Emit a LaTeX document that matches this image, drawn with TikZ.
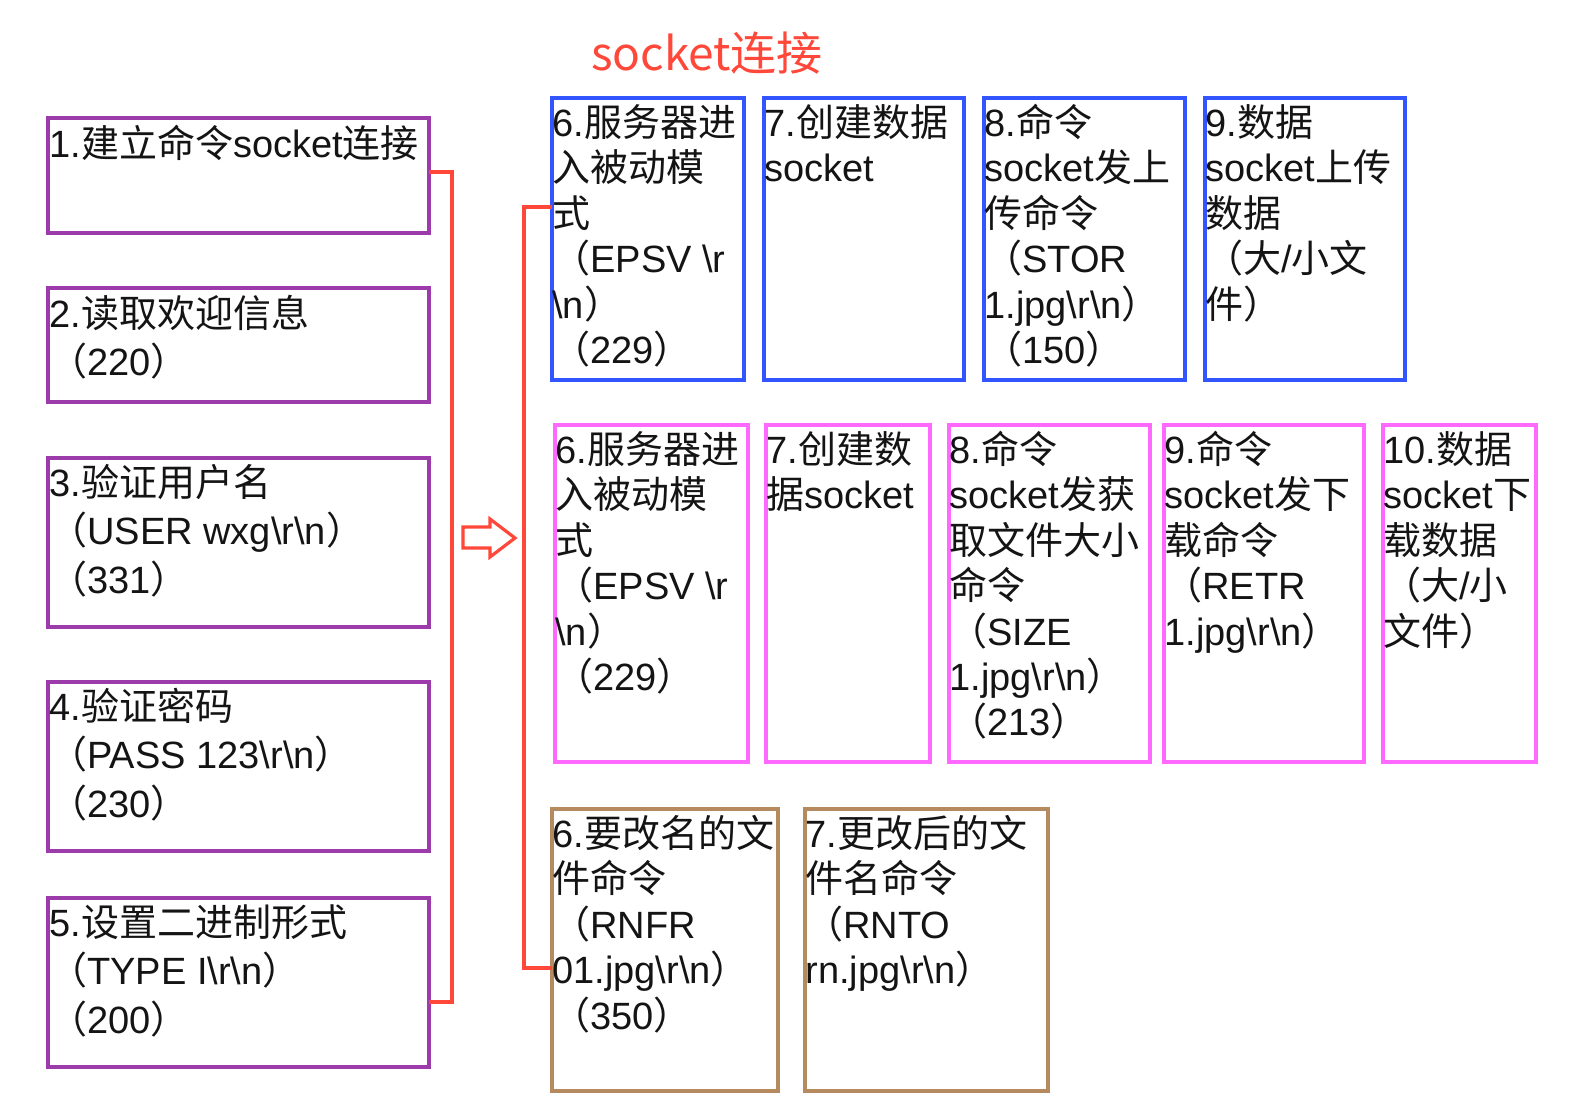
\documentclass[tikz,border=0pt]{standalone}
\usepackage{fontspec}
\newfontfamily\cjk{Noto Sans CJK SC}
\newfontfamily\lat{Liberation Sans}
\usetikzlibrary{calc}
\definecolor{cpurple}{RGB}{155,60,170}
\definecolor{cblue}{RGB}{50,85,255}
\definecolor{cpink}{RGB}{255,105,255}
\definecolor{cbrown}{RGB}{182,138,95}
\definecolor{cred}{RGB}{255,72,58}
\newcommand\bs{\textbackslash}
\newcommand\st{\rule{0pt}{17pt}}
\newcommand\A[1]{{\lat #1}}
\tikzset{
  boxbase/.style={draw, line width=1.75pt, anchor=north west, inner sep=0pt, outer sep=0pt, rectangle},
  boxP/.style={boxbase, draw=cpurple},
  boxB/.style={boxbase, draw=cblue},
  boxK/.style={boxbase, draw=cpink},
  boxR/.style={boxbase, draw=cbrown},
  txtL/.style={anchor=north west, inner sep=0pt, align=left, text=black!92, font=\cjk\fontsize{19}{24.2}\selectfont},
  txtR/.style={anchor=north west, inner sep=0pt, align=left, text=black!92, font=\cjk\fontsize{19}{22.7}\selectfont},
  conn/.style={draw=cred, line width=1.6pt},
  ttl/.style={text=cred, inner sep=0pt, font=\cjk\fontsize{23}{26}\selectfont}
}
\begin{document}
\begin{tikzpicture}[x=0.5pt,y=-0.5pt]
\useasboundingbox (0,0) rectangle (1584,1114);
\fill[white] (0,0) rectangle (1584,1114);

% title
\node[ttl] (title) at (707,53) {socket连接};

% left column
\node[boxP, minimum width=190.5pt, minimum height=57.5pt] (b1) at (48,118) {};
\node[boxP, minimum width=190.5pt, minimum height=57pt] (b2) at (48,288) {};
\node[boxP, minimum width=190.5pt, minimum height=84.5pt] (b3) at (48,458) {};
\node[boxP, minimum width=190.5pt, minimum height=84.5pt] (b4) at (48,682) {};
\node[boxP, minimum width=190.5pt, minimum height=84.5pt] (b5) at (48,898) {};

\node[txtL] (t1) at ($(b1.north west)+(1,5)$) {\st\A{1.}建立命令\A{socket}连接};
\node[txtL] (t2) at ($(b2.north west)+(1,5)$) {\st\A{2.}读取欢迎信息\\（\A{220}）};
\node[txtL] (t3) at ($(b3.north west)+(1,4)$) {\st\A{3.}验证用户名\\（\A{USER wxg\bs r\bs n}）\\（\A{331}）};
\node[txtL] (t4) at ($(b4.north west)+(1,4)$) {\st\A{4.}验证密码\\（\A{PASS 123\bs r\bs n}）\\（\A{230}）};
\node[txtL] (t5) at ($(b5.north west)+(1,4)$) {\st\A{5.}设置二进制形式\\（\A{TYPE I\bs r\bs n}）\\（\A{200}）};

% blue row
\node[boxB, minimum width=96pt, minimum height=141pt] (u6) at (552,98) {};
\node[boxB, minimum width=100pt, minimum height=141pt] (u7) at (764,98) {};
\node[boxB, minimum width=100.5pt, minimum height=141pt] (u8) at (984,98) {};
\node[boxB, minimum width=100pt, minimum height=141pt] (u9) at (1205,98) {};

\node[txtR] (tu6) at ($(u6.north west)+(0,4)$) {\st\A{6.}服务器进\\入被动模\\式\\（\A{EPSV \bs r}\\\A{\bs n}）\\（\A{229}）};
\node[txtR] (tu7) at ($(u7.north west)+(0,4)$) {\st\A{7.}创建数据\\\A{socket}};
\node[txtR] (tu8) at ($(u8.north west)+(0,4)$) {\st\A{8.}命令\\\A{socket}发上\\传命令\\（\A{STOR}\\\A{1.jpg\bs r\bs n}）\\（\A{150}）};
\node[txtR] (tu9) at ($(u9.north west)+(0,4)$) {\st\A{9.}数据\\\A{socket}上传\\数据\\（大\A{/}小文\\件）};

% pink row
\node[boxK, minimum width=96.5pt, minimum height=168.5pt] (d6) at (555,425) {};
\node[boxK, minimum width=82pt, minimum height=168.5pt] (d7) at (766,425) {};
\node[boxK, minimum width=100.5pt, minimum height=168.5pt] (d8) at (949,425) {};
\node[boxK, minimum width=100pt, minimum height=168.5pt] (d9) at (1164,425) {};
\node[boxK, minimum width=76.5pt, minimum height=168.5pt] (d10) at (1383,425) {};

\node[txtR] (td6) at ($(d6.north west)+(0,4)$) {\st\A{6.}服务器进\\入被动模\\式\\（\A{EPSV \bs r}\\\A{\bs n}）\\（\A{229}）};
\node[txtR] (td7) at ($(d7.north west)+(0,4)$) {\st\A{7.}创建数\\据\A{socket}};
\node[txtR] (td8) at ($(d8.north west)+(0,4)$) {\st\A{8.}命令\\\A{socket}发获\\取文件大小\\命令\\（\A{SIZE}\\\A{1.jpg\bs r\bs n}）\\（\A{213}）};
\node[txtR] (td9) at ($(d9.north west)+(0,4)$) {\st\A{9.}命令\\\A{socket}发下\\载命令\\（\A{RETR}\\\A{1.jpg\bs r\bs n}）};
\node[txtR] (td10) at ($(d10.north west)+(0,4)$) {\st\A{10.}数据\\\A{socket}下\\载数据\\（大\A{/}小\\文件）};

% brown row
\node[boxR, minimum width=113pt, minimum height=141pt] (r6) at (552,809) {};
\node[boxR, minimum width=121.5pt, minimum height=141pt] (r7) at (805,809) {};

\node[txtR] (tr6) at ($(r6.north west)+(0,4)$) {\st\A{6.}要改名的文\\件命令\\（\A{RNFR}\\\A{01.jpg\bs r\bs n}）\\（\A{350}）};
\node[txtR] (tr7) at ($(r7.north west)+(0,4)$) {\st\A{7.}更改后的文\\件名命令\\（\A{RNTO}\\\A{rn.jpg\bs r\bs n}）};

% connectors
\draw[conn] ($(b1.north east)+(0,54)$) -- ++(23,0) |- ($(b5.north east)+(0,104)$);
\draw[conn] ($(u6.north west)+(0,109)$) -- ++(-28,0) |- ($(r6.north west)+(0,159)$);

% hollow arrow
\draw[cred, line width=1.6pt, line join=miter] (463,527) -- (490,527) -- (490,519) -- (515,538) -- (490,557) -- (490,548) -- (463,548) -- cycle;
\end{tikzpicture}
\end{document}
